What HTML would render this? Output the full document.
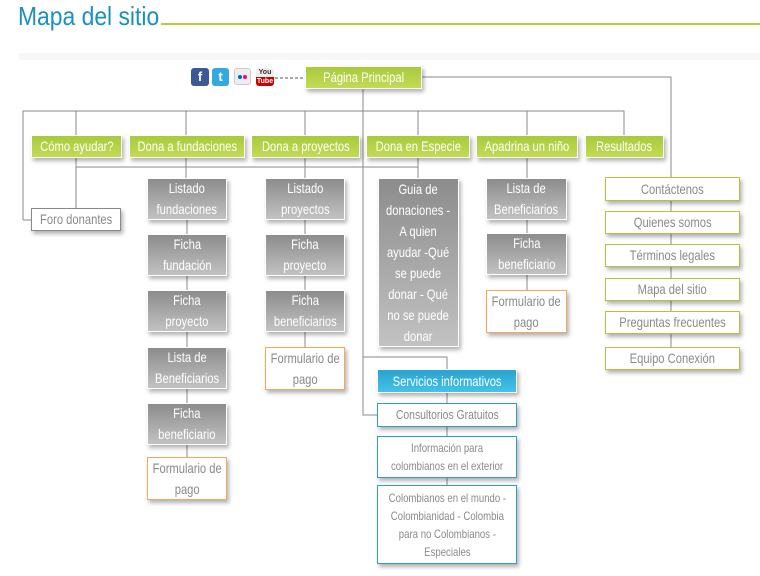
<!DOCTYPE html>
<html><head><meta charset="utf-8"><style>
body{margin:0;width:760px;height:576px;background:#fff;position:relative;overflow:hidden;font-family:"Liberation Sans",sans-serif;}
.t{position:absolute;left:18px;top:1px;font-size:26px;color:#1b8fc1;transform:scaleX(.88);transform-origin:0 0;white-space:nowrap}
.b{position:absolute;box-sizing:border-box;display:flex;align-items:center;justify-content:center;text-align:center;font-size:14px;line-height:21px;box-shadow:2px 3px 4px rgba(0,0,0,.3);white-space:nowrap}
.b span{display:inline-block;transform:scaleX(.8)}
.g{background:linear-gradient(#a9c93c,#c2dc55);color:#fff;border:1px solid #fff;}
.d{background:linear-gradient(#8c8c8c,#c2c2c2);color:#fff;border:1px solid #fff;}
.w{background:#fff;color:#8a8a8a;border:1px solid #8a8a8a;}
.o{background:#fff;color:#8a8a8a;border:1px solid #f5a85a;}
.l{background:#fff;color:#8a8a8a;border:1px solid #a9c93c;}
.c{background:#fff;color:#8a8a8a;border:1px solid #2d9ec9;font-size:12px;line-height:18px;}
.s{background:linear-gradient(#2aa3cf,#44c2e8);color:#fff;border:1px solid #fff;}
</style></head><body>
<div class="t">Mapa del sitio</div>
<div style="position:absolute;left:161px;top:23px;width:599px;height:2px;background:#b5cc3c"></div>
<div style="position:absolute;left:19px;top:53px;width:741px;height:7px;background:#f7f7f7"></div>
<svg width="760" height="576" style="position:absolute;left:0;top:0" fill="none" stroke="#8a8a8a" stroke-width="1">
<path d="M275 78H305" stroke-dasharray="3,2" stroke="#555"/>
<path d="M422 77H671V177M671 201V347M363 89V415H377M363 357H447V369M447 393V403M447 427V436M447 478V485"/>
<path d="M23 220V111H624V135M23 220H31M76 111V135M186 111V135M305 111V135M418 111V135M527 111V135"/>
<path d="M76 158V208M76 167H418M186 158V178M305 158V178M418 158V178M527 158V178"/>
<path d="M187 220V457M305 220V347M527 220V290"/>
</svg>
<div style="position:absolute;left:191px;top:68px;width:18px;height:18px;background:#3b5998;border-radius:3px;color:#fff;font:bold 13px 'Liberation Sans';text-align:center;line-height:18px">f</div>
<div style="position:absolute;left:212px;top:68px;width:17px;height:18px;background:#33aadd;border-radius:3px;color:#fff;font:bold 13px 'Liberation Sans';text-align:center;line-height:18px">t</div>
<div style="position:absolute;left:234px;top:68px;width:17px;height:17px;background:#eee;border-radius:3px;border:1px solid #ccc;box-sizing:border-box"><span style="position:absolute;left:3px;top:6px;width:4px;height:4px;border-radius:2px;background:#0063dc"></span><span style="position:absolute;left:8px;top:6px;width:4px;height:4px;border-radius:2px;background:#ff0084"></span></div>
<div style="position:absolute;left:256px;top:68px;width:18px;height:18px;background:linear-gradient(#eee 50%,#c00 50%);border-radius:3px;font:bold 7px 'Liberation Sans';text-align:center;line-height:9px;color:#333">You<br><span style="color:#fff">Tube</span></div>
<div class="b g" style="left:305px;top:66px;width:117px;height:23px"><span>Página Principal</span></div>
<div class="b g" style="left:31px;top:135px;width:91px;height:23px"><span>Cómo ayudar?</span></div>
<div class="b g" style="left:129px;top:135px;width:116px;height:23px"><span>Dona a fundaciones</span></div>
<div class="b g" style="left:251px;top:135px;width:109px;height:23px"><span>Dona a proyectos</span></div>
<div class="b g" style="left:366px;top:135px;width:104px;height:23px"><span>Dona en Especie</span></div>
<div class="b g" style="left:476px;top:135px;width:102px;height:23px"><span>Apadrina un niño</span></div>
<div class="b g" style="left:585px;top:135px;width:79px;height:23px"><span>Resultados</span></div>
<div class="b w" style="left:31px;top:208px;width:90px;height:23px"><span>Foro donantes</span></div>
<div class="b d" style="left:147px;top:178px;width:80px;height:42px"><span>Listado<br>fundaciones</span></div>
<div class="b d" style="left:147px;top:234px;width:80px;height:42px"><span>Ficha<br>fundación</span></div>
<div class="b d" style="left:147px;top:290px;width:80px;height:42px"><span>Ficha<br>proyecto</span></div>
<div class="b d" style="left:147px;top:347px;width:80px;height:42px"><span>Lista de<br>Beneficiarios</span></div>
<div class="b d" style="left:147px;top:403px;width:80px;height:42px"><span>Ficha<br>beneficiario</span></div>
<div class="b o" style="left:147px;top:457px;width:80px;height:43px"><span>Formulario de<br>pago</span></div>
<div class="b d" style="left:265px;top:178px;width:80px;height:42px"><span>Listado<br>proyectos</span></div>
<div class="b d" style="left:265px;top:234px;width:80px;height:42px"><span>Ficha<br>proyecto</span></div>
<div class="b d" style="left:265px;top:290px;width:80px;height:42px"><span>Ficha<br>beneficiarios</span></div>
<div class="b o" style="left:265px;top:347px;width:80px;height:43px"><span>Formulario de<br>pago</span></div>
<div class="b d" style="left:378px;top:178px;width:81px;height:169px"><span>Guia de<br>donaciones -<br>A quien<br>ayudar -Qué<br>se puede<br>donar - Qué<br>no se puede<br>donar</span></div>
<div class="b d" style="left:486px;top:178px;width:81px;height:42px"><span>Lista de<br>Beneficiarios</span></div>
<div class="b d" style="left:486px;top:233px;width:81px;height:42px"><span>Ficha<br>beneficiario</span></div>
<div class="b o" style="left:486px;top:290px;width:81px;height:43px"><span>Formulario de<br>pago</span></div>
<div class="b l" style="left:605px;top:177px;width:135px;height:24px"><span>Contáctenos</span></div>
<div class="b l" style="left:605px;top:211px;width:135px;height:23px"><span>Quienes somos</span></div>
<div class="b l" style="left:605px;top:244px;width:135px;height:23px"><span>Términos legales</span></div>
<div class="b l" style="left:605px;top:278px;width:135px;height:23px"><span>Mapa del sitio</span></div>
<div class="b l" style="left:605px;top:311px;width:135px;height:23px"><span>Preguntas frecuentes</span></div>
<div class="b l" style="left:605px;top:347px;width:135px;height:23px"><span>Equipo Conexión</span></div>
<div class="b s" style="left:377px;top:369px;width:140px;height:24px"><span>Servicios informativos</span></div>
<div class="b c" style="left:377px;top:403px;width:140px;height:24px;font-size:13px"><span>Consultorios Gratuitos</span></div>
<div class="b c" style="left:377px;top:436px;width:140px;height:42px"><span>Información para<br>colombianos en el exterior</span></div>
<div class="b c" style="left:377px;top:485px;width:140px;height:79px"><span>Colombianos en el mundo -<br>Colombianidad - Colombia<br>para no Colombianos -<br>Especiales</span></div>
</body></html>
